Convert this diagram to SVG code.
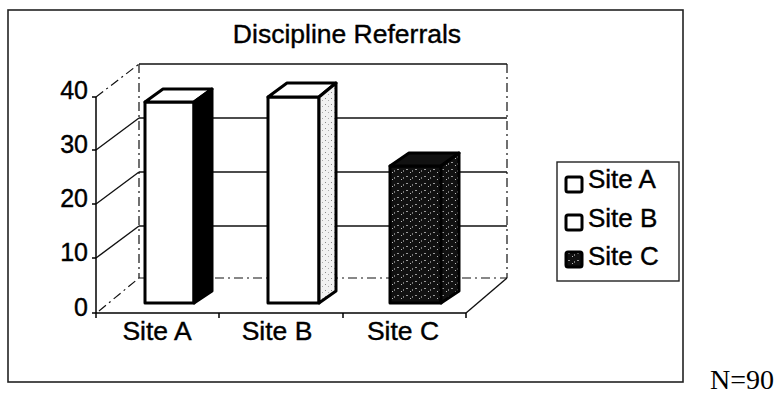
<svg xmlns="http://www.w3.org/2000/svg" width="777" height="394" viewBox="0 0 777 394">
<defs>
<style>
.t{font-family:"Liberation Sans",Arial,sans-serif;fill:#000;stroke:#000;stroke-width:0.4}
.grid{stroke:#111;stroke-width:1.4;fill:none}
.dash{stroke:#111;stroke-width:1.2;fill:none;stroke-dasharray:9 4 2 4}
.bar{stroke:#000;stroke-width:3;stroke-linejoin:round}
.axis{stroke:#000;stroke-width:1.5;fill:none}
</style>
<pattern id="speck" width="9" height="7" patternUnits="userSpaceOnUse">
<rect width="9" height="7" fill="#111"/>
<rect x="1" y="1" width="2" height="1" fill="#9a9a9a"/>
<rect x="5" y="4" width="1" height="1" fill="#bdbdbd"/>
<rect x="7" y="2" width="1" height="2" fill="#777"/>
</pattern>
<pattern id="lite" width="6" height="6" patternUnits="userSpaceOnUse">
<rect width="6" height="6" fill="#f2f2f2"/>
<rect x="1" y="2" width="1" height="1" fill="#888"/>
<rect x="4" y="4" width="1" height="1" fill="#aaa"/>
</pattern>
</defs>
<rect x="0" y="0" width="777" height="394" fill="#fff"/>
<g id="frame">
<rect x="8" y="10" width="675" height="372" fill="none" stroke="#222" stroke-width="1.6"/>
</g>
<g id="title">
<text class="t" x="347" y="43" font-size="26.5" text-anchor="middle">Discipline Referrals</text>
</g>
<g id="walls">
<line class="grid" x1="139" y1="64" x2="507" y2="64"/>
<line class="dash" x1="139" y1="64" x2="139" y2="278"/>
<line class="dash" x1="507" y1="64" x2="507" y2="278"/>
<line class="grid" x1="139" y1="118" x2="507" y2="118"/>
<line class="grid" x1="139" y1="172" x2="507" y2="172"/>
<line class="grid" x1="139" y1="226" x2="507" y2="226"/>
<line class="dash" x1="139" y1="278" x2="507" y2="278"/>
<line class="dash" x1="96" y1="97" x2="139" y2="64"/>
<line class="grid" x1="96" y1="150" x2="139" y2="118"/>
<line class="grid" x1="96" y1="204" x2="139" y2="172"/>
<line class="grid" x1="96" y1="258" x2="139" y2="226"/>
<line class="dash" x1="99" y1="311" x2="139" y2="278"/>
<line class="grid" x1="466" y1="313" x2="507" y2="278"/>
</g>
<g id="bar-a">
<rect class="bar" x="145" y="102" width="49" height="201" fill="#fff"/>
<polygon class="bar" points="145,102 163,89 212,89 194,102" fill="#fff"/>
<polygon class="bar" points="194,102 212,89 212,291 194,303" fill="#000"/>
</g>
<g id="bar-b">
<rect class="bar" x="268" y="97" width="51" height="206" fill="#fff"/>
<polygon class="bar" points="268,97 287,83 336,83 319,97" fill="#fff"/>
<polygon class="bar" points="319,97 336,83 336,291 319,303" fill="url(#lite)"/>
</g>
<g id="bar-c">
<rect class="bar" x="390" y="166" width="51" height="137" fill="url(#speck)"/>
<polygon class="bar" points="390,166 409,153 459,153 441,166" fill="#111"/>
<polygon class="bar" points="441,166 459,153 459,291 441,303" fill="url(#speck)"/>
</g>
<g id="axes">
<line class="axis" x1="96" y1="97" x2="96" y2="313"/>
<line class="axis" x1="96" y1="313" x2="466" y2="313"/>
<line class="axis" x1="92" y1="97" x2="96" y2="97"/>
<line class="axis" x1="92" y1="150" x2="96" y2="150"/>
<line class="axis" x1="92" y1="204" x2="96" y2="204"/>
<line class="axis" x1="92" y1="258" x2="96" y2="258"/>
<line class="axis" x1="92" y1="313" x2="96" y2="313"/>
<line class="axis" x1="96" y1="313" x2="96" y2="318"/>
<line class="axis" x1="219" y1="313" x2="219" y2="318"/>
<line class="axis" x1="343" y1="313" x2="343" y2="318"/>
<line class="axis" x1="466" y1="313" x2="466" y2="318"/>
<text class="t" x="88" y="99" font-size="25" text-anchor="end">40</text>
<text class="t" x="88" y="153" font-size="25" text-anchor="end">30</text>
<text class="t" x="88" y="207" font-size="25" text-anchor="end">20</text>
<text class="t" x="88" y="261" font-size="25" text-anchor="end">10</text>
<text class="t" x="88" y="316" font-size="25" text-anchor="end">0</text>
<text class="t" x="157" y="340" font-size="26.5" text-anchor="middle">Site A</text>
<text class="t" x="277" y="340" font-size="26.5" text-anchor="middle">Site B</text>
<text class="t" x="403" y="340" font-size="26.5" text-anchor="middle">Site C</text>
</g>
<g id="legend">
<rect x="557" y="162" width="122" height="119" fill="#fff" stroke="#222" stroke-width="1.4"/>
<rect x="566" y="177" width="16" height="15" rx="2" fill="#fff" stroke="#000" stroke-width="3"/>
<rect x="566" y="215" width="16" height="15" rx="2" fill="#fff" stroke="#000" stroke-width="3"/>
<rect x="566" y="252" width="16" height="15" rx="2" fill="url(#speck)" stroke="#000" stroke-width="3"/>
<text class="t" x="588" y="188" font-size="26">Site A</text>
<text class="t" x="588" y="227" font-size="26">Site B</text>
<text class="t" x="588" y="265" font-size="26">Site C</text>
</g>
<g id="note">
<text x="774" y="389" text-anchor="end" font-family="'Liberation Serif','Times New Roman',serif" font-size="28" fill="#000">N=90</text>
</g>
</svg>
